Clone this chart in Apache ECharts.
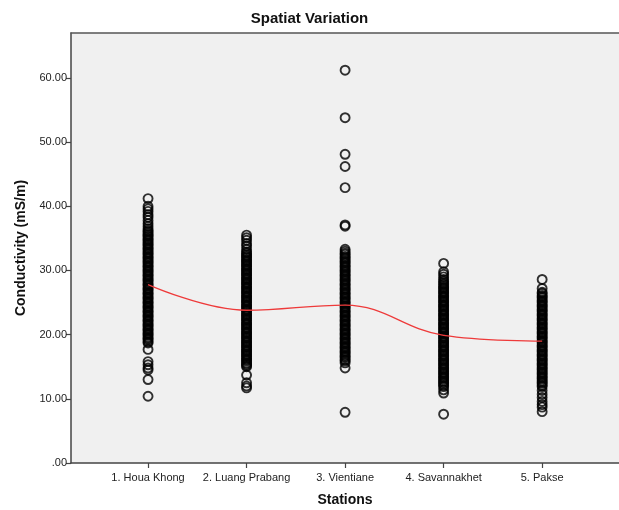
<!DOCTYPE html>
<html>
<head>
<meta charset="utf-8">
<script src="https://cdn.jsdelivr.net/npm/echarts@6/dist/echarts.min.js"></script>
<style>
  html, body { margin: 0; padding: 0; background: #fff; }
  #main { width: 619px; height: 510px; }
</style>
</head>
<body>
<div id="main"></div>
<script>
const stations = ['1. Houa Khong', '2. Luang Prabang', '3. Vientiane', '4. Savannakhet', '5. Pakse']

// conductivity readings per station (mS/m)
const houaKhong = [41.2, 40.0, 39.6, 39.2, 38.7, 38.3, 37.8, 37.3, 36.9, 36.5,
  36.2, 36.0, 35.7, 35.5, 35.3, 35.0, 34.8, 34.6, 34.3, 34.1, 33.9, 33.6, 33.4, 33.2, 32.9, 32.7, 32.5, 32.2,
  32.0, 31.8, 31.5, 31.3, 31.1, 30.8, 30.6, 30.4, 30.1, 29.9, 29.7, 29.4, 29.2, 29.0, 28.7, 28.5, 28.3, 28.0,
  27.8, 27.6, 27.3, 27.1, 26.9, 26.6, 26.4, 26.2, 25.9, 25.7, 25.5, 25.2, 25.0, 24.8, 24.5, 24.3, 24.1, 23.8,
  23.6, 23.4, 23.1, 22.9, 22.7, 22.4, 22.2, 22.0, 21.7, 21.5, 21.3, 21.0, 20.8, 20.6, 20.3, 20.1, 19.9, 19.6,
  19.4, 19.2, 18.9, 18.7,
  17.7, 15.8, 15.3, 14.8, 14.5, 13.0, 10.4]
const luangPrabang = [35.5, 35.1, 34.7, 34.2, 33.8, 33.3, 32.9,
  32.7, 32.4, 32.2, 32.0, 31.7, 31.5, 31.3, 31.0, 30.8, 30.6, 30.3, 30.1, 29.9, 29.6, 29.4, 29.2, 28.9, 28.7,
  28.5, 28.2, 28.0, 27.8, 27.5, 27.3, 27.1, 26.8, 26.6, 26.4, 26.1, 25.9, 25.7, 25.4, 25.2, 25.0, 24.7, 24.5,
  24.3, 24.0, 23.8, 23.6, 23.3, 23.1, 22.9, 22.6, 22.4, 22.2, 21.9, 21.7, 21.5, 21.2, 21.0, 20.8, 20.5, 20.3,
  20.1, 19.8, 19.6, 19.4, 19.1, 18.9, 18.7, 18.4, 18.2, 18.0, 17.7, 17.5, 17.3, 17.0, 16.8, 16.6, 16.3, 16.1,
  15.9, 15.6, 15.4, 15.2, 15.0,
  13.7, 12.5, 12.0, 11.7]
const vientiane = [61.2, 53.8, 48.1, 46.2, 42.9, 37.1, 36.9, 33.3, 33.0, 32.7,
  32.5, 32.2, 32.0, 31.8, 31.5, 31.3, 31.1, 30.8, 30.6, 30.4, 30.1, 29.9, 29.7, 29.4, 29.2, 29.0, 28.7, 28.5,
  28.3, 28.0, 27.8, 27.6, 27.3, 27.1, 26.9, 26.6, 26.4, 26.2, 25.9, 25.7, 25.5, 25.2, 25.0, 24.8, 24.5, 24.3,
  24.1, 23.8, 23.6, 23.4, 23.1, 22.9, 22.7, 22.4, 22.2, 22.0, 21.7, 21.5, 21.3, 21.0, 20.8, 20.6, 20.3, 20.1,
  19.9, 19.6, 19.4, 19.2, 18.9, 18.7, 18.5, 18.2, 18.0, 17.8, 17.5, 17.3, 17.1, 16.8, 16.6, 16.4, 16.1, 15.9,
  15.6,
  14.8, 7.9]
const savannakhet = [31.1, 29.8, 29.4, 29.0, 28.6, 28.3,
  28.0, 27.8, 27.5, 27.3, 27.1, 26.8, 26.6, 26.4, 26.1, 25.9, 25.7, 25.4, 25.2, 25.0, 24.7, 24.5, 24.3, 24.0,
  23.8, 23.6, 23.3, 23.1, 22.9, 22.6, 22.4, 22.2, 21.9, 21.7, 21.5, 21.2, 21.0, 20.8, 20.5, 20.3, 20.1, 19.8,
  19.6, 19.4, 19.1, 18.9, 18.7, 18.4, 18.2, 18.0, 17.7, 17.5, 17.3, 17.0, 16.8, 16.6, 16.3, 16.1, 15.9, 15.6,
  15.4, 15.2, 14.9, 14.7, 14.5, 14.2, 14.0, 13.8, 13.5, 13.3, 13.1, 12.8, 12.6, 12.4, 12.1, 11.9,
  11.4, 10.9, 7.6]
const pakse = [28.6, 27.2,
  26.6, 26.4, 26.1, 25.9, 25.7, 25.4, 25.2, 25.0, 24.7, 24.5, 24.3, 24.0, 23.8, 23.6, 23.3, 23.1, 22.9, 22.6,
  22.4, 22.2, 21.9, 21.7, 21.5, 21.2, 21.0, 20.8, 20.5, 20.3, 20.1, 19.8, 19.6, 19.4, 19.1, 18.9, 18.7, 18.4,
  18.2, 18.0, 17.7, 17.5, 17.3, 17.0, 16.8, 16.6, 16.3, 16.1, 15.9, 15.6, 15.4, 15.2, 14.9, 14.7, 14.5, 14.2,
  14.0, 13.8, 13.5, 13.3, 13.1, 12.8, 12.6, 12.4, 12.1, 11.9,
  11.3, 10.7, 10.2, 9.6, 9.1, 8.7, 8.0]
const stationMeans = [27.8, 23.8, 24.6, 19.9, 19.0]

const yTicks = [0, 10, 20, 30, 40, 50, 60]

const allValues = [houaKhong, luangPrabang, vientiane, savannakhet, pakse]
let pointData = []
allValues.forEach((arr, i) => {
  arr.forEach(v => {
    pointData.push([i + 1, v])
  })
})
const meanData = stationMeans.map((v, i) => [i + 1, v])
const catPos = stations.map((s, i) => i + 1)

const chart = echarts.init(document.getElementById('main'))
const baseFont = '"Liberation Sans", Arial, sans-serif'

let option = {
  animation: false,
  backgroundColor: '#ffffff',
  title: {
    text: 'Spatiat Variation',
    left: 'center',
    top: 6,
    textStyle: { fontFamily: baseFont, fontSize: 15, fontWeight: 'bold', color: '#111' }
  },
  grid: {
    left: 71, right: 0, top: 33, bottom: 47,
    outerBoundsMode: 'none',
    containLabel: false,
    show: true,
    backgroundColor: '#f0f0f0',
    borderWidth: 0
  },
  xAxis: [{
    type: 'value',
    min: 0.218,
    max: 5.78,
    name: 'Stations',
    nameLocation: 'middle',
    nameGap: 30,
    nameTextStyle: { fontFamily: baseFont, fontSize: 14, fontWeight: 'bold', color: '#111' },
    axisLine: { show: true, lineStyle: { color: '#444', width: 1.5 } },
    axisTick: { show: true, customValues: catPos, length: 5, lineStyle: { color: '#444', width: 1.2 } },
    axisLabel: {
      customValues: catPos,
      margin: 9,
      fontFamily: baseFont, fontSize: 11, color: '#222',
      formatter: (v) => stations[Math.round(v) - 1] || ''
    },
    splitLine: { show: false }
  }, {
    type: 'value',
    position: 'top',
    min: 0.218,
    max: 5.78,
    axisLine: { show: true, onZero: false, lineStyle: { color: '#555', width: 1.5 } },
    axisTick: { show: false },
    axisLabel: { show: false },
    splitLine: { show: false }
  }],
  yAxis: {
    type: 'value',
    min: 0,
    max: 67,
    interval: 10,
    name: 'Conductivity (mS/m)',
    nameLocation: 'middle',
    nameGap: 38,
    nameTextStyle: { fontFamily: baseFont, fontSize: 14, fontWeight: 'bold', color: '#111' },
    axisLine: { show: true, lineStyle: { color: '#444', width: 1.5 } },
    axisTick: { show: true, customValues: yTicks, length: 5, lineStyle: { color: '#444', width: 1.2 } },
    axisLabel: {
      customValues: yTicks,
      fontFamily: baseFont, fontSize: 11, color: '#222', margin: 4,
      formatter: (v) => v === 0 ? '.00' : v.toFixed(2)
    },
    splitLine: { show: false }
  },
  series: [{
    type: 'scatter',
    data: pointData,
    symbol: 'circle',
    symbolSize: 9,
    itemStyle: { color: 'rgba(0,0,0,0)', borderColor: '#000', borderWidth: 1.9 }
  }, {
    type: 'line',
    data: meanData,
    smooth: 0.4,
    symbol: 'none',
    lineStyle: { color: '#ee3a3a', width: 1.3 },
    z: 3
  }]
}
chart.setOption(option)
</script>
</body>
</html>
